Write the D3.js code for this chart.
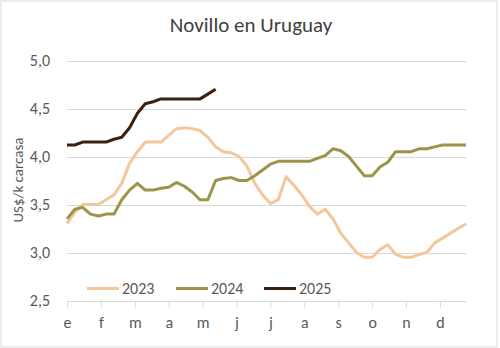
<!DOCTYPE html>
<html><head><meta charset="utf-8">
<script src="https://cdn.jsdelivr.net/npm/d3@7"></script>
<style>body{margin:0;background:#fff}svg{display:block}</style>
</head><body>
<script>
const months = ["e","f","m","a","m","j","j","a","s","o","n","d"];
const yTicks = [2.5,3.0,3.5,4.0,4.5,5.0];
const years = ["2023","2024","2025"];
const s2023 = [3.30,3.42,3.50,3.50,3.50,3.55,3.60,3.72,3.93,4.05,4.15,4.15,4.15,4.22,4.29,4.30,4.29,4.27,4.20,4.10,4.05,4.04,4.00,3.90,3.72,3.60,3.51,3.55,3.79,3.70,3.60,3.48,3.40,3.45,3.35,3.20,3.10,3.00,2.95,2.95,3.03,3.08,2.98,2.95,2.95,2.98,3.00,3.10,3.15,3.20,3.25,3.30];
const s2024 = [3.35,3.45,3.47,3.40,3.38,3.40,3.40,3.55,3.65,3.72,3.65,3.65,3.67,3.68,3.73,3.69,3.63,3.55,3.55,3.75,3.77,3.78,3.75,3.75,3.80,3.86,3.92,3.95,3.95,3.95,3.95,3.95,3.98,4.01,4.08,4.06,4.00,3.90,3.80,3.80,3.89,3.94,4.05,4.05,4.05,4.08,4.08,4.10,4.12,4.12,4.12,4.12];
const s2025 = [4.12,4.12,4.15,4.15,4.15,4.15,4.18,4.20,4.30,4.45,4.55,4.57,4.60,4.60,4.60,4.60,4.60,4.60,4.65,4.70];
const colors = ["#F4C69C","#9C9549","#3B2111"];
const series = [s2023,s2024,s2025];

const W=500,H=348;
const svg = d3.select("body").append("svg").attr("width",W).attr("height",H);
svg.append("rect").attr("x",1).attr("y",1).attr("width",496).attr("height",346)
  .attr("fill","#fff").attr("stroke","#d9d9d9").attr("stroke-width",1);

const x = d3.scaleLinear().domain([0,51]).range([67,466]);
const y = d3.scaleLinear().domain([2.5,5.0]).range([300.5,60.5]);
const font = "Calibri, Carlito, Lato, sans-serif";

svg.append("text").attr("x",251).attr("y",32).attr("text-anchor","middle")
  .attr("font-family",font).attr("font-size",21).attr("fill","#404040").text("Novillo en Uruguay");

// gridlines
svg.append("g").selectAll("line").data(yTicks.filter(d=>d>2.5)).join("line")
  .attr("x1",67).attr("x2",466).attr("y1",d=>Math.round(y(d))+0.5).attr("y2",d=>Math.round(y(d))+0.5)
  .attr("stroke","#d9d9d9").attr("stroke-width",1);

// y axis labels
const yAxis = d3.axisLeft(y).tickValues(yTicks).tickSize(0).tickPadding(0)
  .tickFormat(d=>d3.format(".1f")(d).replace(".",","));
const gy = svg.append("g").attr("transform","translate(50,0)").call(yAxis);
gy.select(".domain").remove();
gy.selectAll("text").attr("font-family",font).attr("font-size",16).attr("fill","#595959");

// x axis
const monthPos = months.map((m,i)=>i*52/12);
const xAxis = d3.axisBottom(x).tickValues(monthPos).tickSize(6).tickPadding(9)
  .tickFormat((d,i)=>months[i]);
const gx = svg.append("g").attr("transform","translate(0,301.5)").call(xAxis);
gx.select(".domain").attr("d","M67,0H466").attr("stroke","#d9d9d9");
gx.selectAll(".tick line").attr("stroke","#d9d9d9");
gx.selectAll("text").attr("font-family",font).attr("font-size",16).attr("fill","#595959");

// y title
svg.append("text").attr("transform","translate(23,180) rotate(-90)").attr("text-anchor","middle")
  .attr("font-family",font).attr("font-size",15).attr("fill","#595959").text("US$/k carcasa");

// lines
const line = d3.line().x((d,i)=>x(i)).y(d=>y(d));
series.forEach((s,k)=>{
  svg.append("path").datum(s).attr("d",line).attr("fill","none")
    .attr("stroke",colors[k]).attr("stroke-width",3).attr("stroke-linejoin","round");
});

// legend
const legX = [87,176,264];
const lg = svg.append("g");
years.forEach((yr,k)=>{
  lg.append("line").attr("x1",legX[k]).attr("x2",legX[k]+32).attr("y1",288.5).attr("y2",288.5)
    .attr("stroke",colors[k]).attr("stroke-width",3);
  lg.append("text").attr("x",legX[k]+35).attr("y",294).attr("font-family",font).attr("font-size",16)
    .attr("fill","#595959").text(yr);
});
</script>
</body></html>
